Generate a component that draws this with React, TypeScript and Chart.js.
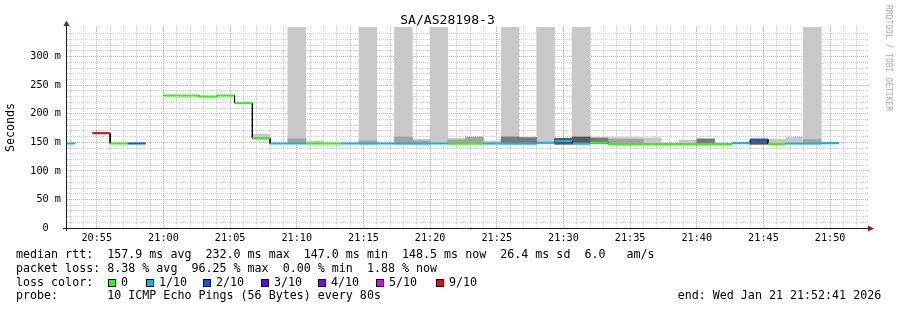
import React, { useEffect, useRef } from 'react';
import { Chart, registerables } from 'chart.js';

Chart.register(...registerables);

// ---------------- data ----------------
const STEP_SECONDS = 80;
const X_START = '20:52:46';
const X_END = '21:52:55';
const Y_MAX = 352;

const stepStarts = [
  '20:52:00', '20:53:20', '20:54:40', '20:56:00', '20:57:20', '20:58:40',
  '21:00:00', '21:01:20', '21:02:40', '21:04:00', '21:05:20', '21:06:40',
  '21:08:00', '21:09:20', '21:10:40', '21:12:00', '21:13:20', '21:14:40',
  '21:16:00', '21:17:20', '21:18:40', '21:20:00', '21:21:20', '21:22:40',
  '21:24:00', '21:25:20', '21:26:40', '21:28:00', '21:29:20', '21:30:40',
  '21:32:00', '21:33:20', '21:34:40', '21:36:00', '21:37:20', '21:38:40',
  '21:40:00', '21:41:20', '21:42:40', '21:44:00', '21:45:20', '21:46:40',
  '21:48:00', '21:49:20',
];

// median round-trip time per step (ms)
const medianMs: (number | null)[] = [
  148, null, 166, 148, 148, null,
  232, 232, 230.3, 232, 219, 157.5,
  148, 148, 148, 148, 148, 148,
  148, 148, 148, 148, 148, 148,
  148, 148, 148, 149.5, 152.5, 148,
  149.5, 147.2, 147.2, 147.0, 147.0, 147.0,
  147.2, 147.2, 148.5, 155, 147.5, 148,
  148, 148.5,
];

// lost pings out of 10 per step
const lostPings: (number | null)[] = [
  1, null, 9, 0, 2, null,
  0, 0, 0, 0, 0, 0,
  1, 1, 0, 0, 1, 1,
  1, 1, 1, 1, 0, 0,
  1, 1, 1, 1, 1, 1,
  0, 0, 0, 0, 0, 0,
  0, 0, 1, 2, 0, 1,
  1, 1,
];

type Band = [number, number] | null;

// smoke: outer (lightest) ping spread per step (ms)
const smokeLight: Band[] = [
  null, null, null, null, null, null,
  null, null, null, null, null, [155, 164],
  null, [148, 352], [147, 152.5], null, null, [148, 352],
  null, [148, 352], [147, 155.5], [148, 352], [147, 157], null,
  [147, 152.5], [148, 352], null, [148, 352], null, [148, 352],
  null, [147, 158.5], [147, 158.5], [147, 158], null, [147, 154],
  [147, 157], null, null, null, [147, 155.5], [147, 159.5],
  [148, 352], null,
];

const smokeMid: Band[] = [
  null, null, null, null, null, null,
  null, null, null, null, null, null,
  null, [148, 156], null, null, null, [147, 152.5],
  null, [147, 159.5], [147, 152.5], null, [147, 154], [147, 159.5],
  null, null, null, null, null, null,
  null, [147, 155.5], [147, 155.5], null, null, null,
  null, null, null, null, null, null,
  [147, 155], null,
];

const smokeDark: Band[] = [
  null, null, null, null, null, null,
  null, null, null, null, null, null,
  null, null, null, null, null, null,
  null, null, null, null, null, null,
  null, [147, 159.5], [147, 158.5], null, null, null,
  [148, 158], null, null, null, null, null,
  [147, 155.5], null, null, null, null, null,
  null, null,
];

const smokeDarkest: Band[] = [
  null, null, null, null, null, null,
  null, null, null, null, null, null,
  null, null, null, null, null, null,
  null, null, null, null, null, null,
  null, null, null, null, [146.5, 157], [147, 159.5],
  null, null, null, null, null, null,
  null, null, null, [146.5, 154], null, null,
  null, null,
];

const lossLevels = [0, 1, 2, 3, 4, 5, 9];
const lossLabels = ['0', '1/10', '2/10', '3/10', '4/10', '5/10', '9/10'];
const lossColors = ['#26ff00', '#00b8ff', '#0059ff', '#5e00ff', '#7e00ff', '#dd00ff', '#ff0000'];

const rttStats = ['157.9 ms avg', '232.0 ms max', '147.0 ms min', '148.5 ms now', '26.4 ms sd', '6.0   am/s'];
const lossStats = ['8.38 % avg', '96.25 % max', '0.00 % min', '1.88 % now'];
const probeText = '10 ICMP Echo Pings (56 Bytes) every 80s';
const endText = 'end: Wed Jan 21 21:52:41 2026';
const titleText = 'SA/AS28198-3';
const yTitle = 'Seconds';
const watermark = 'RRDTOOL / TOBI OETIKER';

// ---------------- helpers ----------------
const toSec = (s: string) => {
  const [h, m, x] = s.split(':').map(Number);
  return h * 3600 + m * 60 + x;
};
const pad2 = (n: number) => String(n).padStart(2, '0');
const fmtHM = (v: number) => `${pad2(Math.floor(v / 3600))}:${pad2(Math.floor((v % 3600) / 60))}`;

const MONO = "'DejaVu Sans Mono', monospace";
const MAJOR = '#f39a9a';
const MINOR = '#cfcfcf';

// dotted rrdtool-style grid, positioned through the chart's own scales
const dottedGrid = {
  id: 'dottedGrid',
  beforeDatasetsDraw(chart: any) {
    const { ctx, chartArea, scales } = chart;
    const { left, right, top, bottom } = chartArea;
    const xs = scales.x;
    const ys = scales.y;
    ctx.save();
    const hLine = (v: number, color: string) => {
      const py = Math.floor(ys.getPixelForValue(v));
      ctx.fillStyle = color;
      for (let px = left; px < right; px += 2) ctx.fillRect(px, py, 1, 1);
    };
    const vLine = (v: number, color: string) => {
      const px = Math.floor(xs.getPixelForValue(v));
      ctx.fillStyle = color;
      for (let py = bottom - 1; py >= top; py -= 2) ctx.fillRect(px, py, 1, 1);
    };
    const yt = ys.ticks.map((t: any) => t.value);
    const xt = xs.ticks.map((t: any) => t.value);
    yt.filter((v: number) => v % 50 !== 0).forEach((v: number) => hLine(v, MINOR));
    xt.filter((v: number) => v % 300 !== 0).forEach((v: number) => vLine(v, MINOR));
    yt.filter((v: number) => v % 50 === 0 && v > 0).forEach((v: number) => hLine(v, MAJOR));
    xt.filter((v: number) => v % 300 === 0).forEach((v: number) => vLine(v, MAJOR));
    ctx.restore();
  },
};

const axisDecor = {
  id: 'axisDecor',
  afterDatasetsDraw(chart: any) {
    const { ctx, chartArea } = chart;
    const { left, right, top, bottom } = chartArea;
    ctx.save();
    ctx.strokeStyle = '#1f1f1f';
    ctx.lineWidth = 1;
    ctx.beginPath();
    ctx.moveTo(left - 4, bottom + 0.5);
    ctx.lineTo(right + 1, bottom + 0.5);
    ctx.moveTo(left - 0.5, bottom + 3);
    ctx.lineTo(left - 0.5, top - 2);
    ctx.stroke();
    ctx.fillStyle = '#801f1f';
    ctx.beginPath();
    ctx.moveTo(left - 3.5, top - 1);
    ctx.lineTo(left + 2.5, top - 1);
    ctx.lineTo(left - 0.5, top - 6.5);
    ctx.closePath();
    ctx.fill();
    ctx.beginPath();
    ctx.moveTo(right - 1, bottom - 2.5);
    ctx.lineTo(right - 1, bottom + 3.5);
    ctx.lineTo(right + 5, bottom + 0.5);
    ctx.closePath();
    ctx.fill();
    ctx.restore();
  },
};

export default function App() {
  const canvasRef = useRef<HTMLCanvasElement>(null);

  useEffect(() => {
    const canvas = canvasRef.current;
    if (!canvas) return;

    const xMin = toSec(X_START);
    const xMax = toSec(X_END);
    const xTicks: number[] = [];
    for (let v = Math.ceil(xMin / 60) * 60; v <= xMax; v += 60) xTicks.push(v);
    const yTicks: number[] = [];
    for (let v = 0; v < Y_MAX - 5; v += 10) yTicks.push(v);

    const smokeLayers = [
      { band: smokeLight, color: '#c8c8c8' },
      { band: smokeMid, color: '#a2a2a2' },
      { band: smokeDark, color: '#7a7a7a' },
      { band: smokeDarkest, color: '#585858' },
    ];

    const barSets = smokeLayers.map((layer, li) => ({
      type: 'bar' as const,
      data: stepStarts.map((s, i) => ({ x: toSec(s) + STEP_SECONDS / 2, y: layer.band[i] })),
      backgroundColor: layer.color,
      borderWidth: 0,
      barThickness: 'flex' as const,
      categoryPercentage: 1,
      barPercentage: 1,
      stack: 'smoke',
      order: 20 - li,
      clip: 0,
    }));

    const medianData: any[] = [];
    stepStarts.forEach((s, i) => {
      const t0 = toSec(s);
      const m = medianMs[i];
      if (m == null) {
        medianData.push({ x: t0 + STEP_SECONDS / 2, y: null });
      } else {
        medianData.push({ x: t0, y: m }, { x: t0 + STEP_SECONDS, y: m });
      }
    });

    const medianSet = {
      type: 'line' as const,
      data: medianData,
      borderColor: '#000',
      borderWidth: 1,
      pointRadius: 0,
      fill: false,
      tension: 0,
      spanGaps: false,
      order: 2,
      clip: 0,
    };

    const lossSets = lossLevels.map((lvl, j) => {
      const d: any[] = [];
      stepStarts.forEach((s, i) => {
        const m = medianMs[i];
        if (m == null || lostPings[i] !== lvl) return;
        const t0 = toSec(s);
        d.push({ x: t0, y: m }, { x: t0 + STEP_SECONDS, y: m }, { x: t0 + STEP_SECONDS, y: null });
      });
      return {
        type: 'line' as const,
        data: d,
        borderColor: lossColors[j],
        borderWidth: 2,
        borderCapStyle: 'butt' as const,
        pointRadius: 0,
        fill: false,
        tension: 0,
        spanGaps: false,
        order: 1,
        clip: 0,
      };
    });

    const chart = new Chart(canvas, {
      type: 'line',
      data: { datasets: [...barSets, medianSet, ...lossSets] as any },
      options: {
        animation: false,
        responsive: false,
        maintainAspectRatio: false,
        events: [],
        layout: { padding: { left: 0, right: 28, top: 27, bottom: 0 } },
        plugins: {
          legend: { display: false },
          tooltip: { enabled: false },
          title: { display: false },
        },
        scales: {
          x: {
            type: 'linear',
            min: xMin,
            max: xMax,
            offset: false,
            afterBuildTicks: (sc: any) => {
              sc.ticks = xTicks.map((v) => ({ value: v }));
            },
            afterFit: (sc: any) => {
              sc.height = 82;
            },
            grid: { display: false, offset: false, drawTicks: false },
            border: { display: false },
            ticks: {
              autoSkip: false,
              maxRotation: 0,
              minRotation: 0,
              padding: 4,
              color: '#000',
              font: { family: MONO, size: 10.2 },
              callback: (v: any) => (Number(v) % 300 === 0 ? fmtHM(Number(v)) : ''),
            },
          },
          y: {
            type: 'linear',
            min: 0,
            max: Y_MAX,
            stacked: false,
            afterBuildTicks: (sc: any) => {
              sc.ticks = yTicks.map((v) => ({ value: v }));
            },
            afterFit: (sc: any) => {
              sc.width = 67;
            },
            grid: { display: false, drawTicks: false },
            border: { display: false },
            ticks: {
              autoSkip: false,
              padding: 6,
              color: '#000',
              font: { family: MONO, size: 10.2 },
              callback: (v: any) => {
                const n = Number(v);
                if (n === 0) return '0  ';
                return n % 50 === 0 ? `${n} m` : '';
              },
            },
            title: {
              display: true,
              text: yTitle,
              color: '#000',
              font: { family: MONO, size: 11.67 },
              padding: { top: 4, bottom: 0 },
            },
          },
        },
      },
      plugins: [dottedGrid, axisDecor],
    } as any);

    return () => chart.destroy();
  }, []);

  const legendFont: React.CSSProperties = {
    position: 'absolute',
    fontFamily: MONO,
    fontSize: '11.67px',
    lineHeight: '14px',
    whiteSpace: 'pre',
    color: '#000',
  };
  const boxX = [108, 146, 203, 261, 318, 376, 436];

  return (
    <div
      style={{
        position: 'absolute',
        left: 0,
        top: 0,
        width: 897,
        height: 310,
        background: '#fff',
        overflow: 'hidden',
      }}
    >
      <canvas ref={canvasRef} width={897} height={310} style={{ position: 'absolute', left: 0, top: 0 }} />
      <div
        style={{
          position: 'absolute',
          left: -1,
          top: 11.5,
          width: 897,
          textAlign: 'center',
          fontFamily: MONO,
          fontSize: '13.1px',
          lineHeight: '16px',
          whiteSpace: 'pre',
          color: '#000',
        }}
      >
        {titleText}
      </div>
      <div
        style={{
          position: 'absolute',
          left: 883,
          top: 4.5,
          writingMode: 'vertical-rl',
          fontFamily: MONO,
          fontSize: '8px',
          lineHeight: '10px',
          whiteSpace: 'pre',
          color: '#ababab',
        }}
      >
        {watermark}
      </div>
      <div style={{ ...legendFont, left: 16, top: 247.3 }}>{'median rtt:  ' + rttStats.join('  ')}</div>
      <div style={{ ...legendFont, left: 16, top: 261 }}>{'packet loss: ' + lossStats.join('  ')}</div>
      <div style={{ ...legendFont, left: 16, top: 275 }}>{'loss color:'}</div>
      {lossLabels.map((lab, j) => (
        <React.Fragment key={lab}>
          <div
            style={{
              position: 'absolute',
              left: boxX[j],
              top: 279,
              width: 8,
              height: 8,
              boxSizing: 'border-box',
              border: '1px solid #000',
              background: lossColors[j],
            }}
          />
          <div style={{ ...legendFont, left: boxX[j] + 13, top: 275 }}>{lab}</div>
        </React.Fragment>
      ))}
      <div style={{ ...legendFont, left: 16, top: 288.4 }}>{'probe:       ' + probeText}</div>
      <div style={{ ...legendFont, left: 677.7, top: 288.4 }}>{endText}</div>
    </div>
  );
}
